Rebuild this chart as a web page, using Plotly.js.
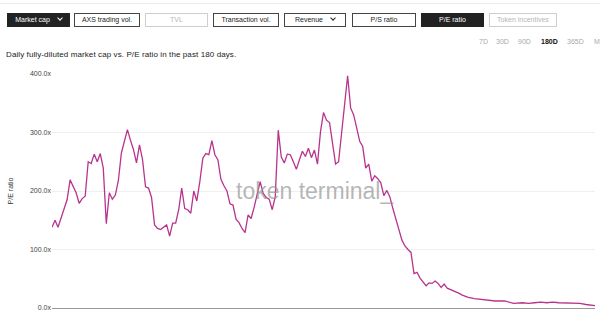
<!DOCTYPE html>
<html>
<head>
<meta charset="utf-8">
<script src="https://cdn.plot.ly/plotly-3.0.1.min.js"></script>
<style>
  html, body { margin:0; padding:0; width:600px; height:313px; overflow:hidden; background:#fff; }
  #chart { position:absolute; left:0; top:0; width:600px; height:313px; }
  .topline { position:absolute; left:0; top:3px; width:600px; height:0; border-top:1px solid #ececec; }
  .btn { position:absolute; top:13px; height:14px; box-sizing:border-box; border:1px solid #444;
         font-family:'Liberation Sans', Arial, sans-serif; font-size:7px; line-height:12px;
         text-align:center; color:#222; background:#fff; white-space:nowrap; }
  .btn.dark { background:#222; border-color:#222; color:#fff; }
  .btn.light { border-color:#cfcfcf; color:#b5b5b5; }
  .chev { display:inline-block; width:3px; height:3px; border-right:1px solid currentColor; border-bottom:1px solid currentColor;
          transform:rotate(45deg); margin-left:8px; position:relative; top:-2px; }
  .tab { position:absolute; top:38px; font-family:'Liberation Sans', Arial, sans-serif; font-size:7px; color:#aaa; }
  .tab.on { color:#111; font-weight:bold; }
  .desc { position:absolute; left:6px; top:50px; font-family:'Liberation Sans', Arial, sans-serif; font-size:8px; color:#222; letter-spacing:0.1px; }
</style>
</head>
<body>
<div id="chart"></div>
<div class="topline"></div>
<div id="controls"></div>
<div class="desc">Daily fully-diluted market cap vs. P/E ratio in the past 180 days.</div>
<script>
// ---- data ----
const startDate = '2021-11-01';
const dayOffsets = [
  0,1,2,3,4,5,6,7,8,9,10,11,12,13,14,15,16,17,18,19,20,21,22,23,24,25,26,27,28,29,
  30,31,32,33,34,35,36,37,38,39,40,41,42,43,44,45,46,47,48,49,50,51,52,53,54,55,56,57,58,59,
  60,61,62,63,64,65,66,67,68,69,70,71,72,73,74,75,76,77,78,79,80,81,82,83,84,85,86,87,88,89,
  90,91,92,93,94,95,96,97,98,99,100,101,102,103,104,105,106,107,108,109,110,111,112,113,114,115,116,117,118,119,
  120,121,122,123,124,125,126,127,128,129,130,131,132,133,134,135,136,137,138,
  140,142,144,147,150,153,156,158,160,162,164,166,168,172,175,177,180
];
const peRatio = [
  138,150,138,155,169,185,219,207,197,179,187,191,250,247,263,250,264,239,144,197,186,193,218,265,283,305,287,271,248,279,
  254,207,205,189,142,136,134,138,142,123,145,145,168,205,170,168,162,200,183,216,256,264,262,286,262,253,220,209,200,178,
  176,152,146,136,129,159,153,172,195,216,196,189,186,168,190,304,258,248,263,262,250,237,253,268,259,273,257,270,246,301,
  334,321,317,279,246,250,301,350,397,342,330,308,285,276,239,246,217,226,221,214,192,201,190,170,150,134,116,106,100,95,
  59,61,51,45,38,43,42,46,42,35,41,34,32,30,27,25,22,20,18,
  16,15,14,12,12,8,9,8,9,10,9,10,9,9,8,6,4
];
const yTicks = [0, 100, 200, 300, 400];
const yTickLabels = ['0.0x', '100.0x', '200.0x', '300.0x', '400.0x'];
const buttons = [
  {label:'Market cap', left:7, width:63, style:'dark', chevron:true},
  {label:'AXS trading vol.', left:74, width:66, style:'', chevron:false},
  {label:'TVL', left:145, width:63, style:'light', chevron:false},
  {label:'Transaction vol.', left:213, width:66, style:'', chevron:false},
  {label:'Revenue', left:284, width:62, style:'', chevron:true},
  {label:'P/S ratio', left:352, width:64, style:'', chevron:false},
  {label:'P/E ratio', left:421, width:63, style:'dark', chevron:false},
  {label:'Token incentives', left:489, width:68, style:'light', chevron:false}
];
const tabs = [
  {label:'7D', left:479}, {label:'30D', left:496}, {label:'90D', left:518},
  {label:'180D', left:541, on:true}, {label:'365D', left:567}, {label:'M', left:594}
];

// ---- controls (HTML text) ----
const ctr = document.getElementById('controls');
buttons.forEach(b => {
  const d = document.createElement('div');
  d.className = 'btn ' + b.style;
  d.style.left = b.left + 'px';
  d.style.width = b.width + 'px';
  d.textContent = b.label;
  if (b.chevron) { const c = document.createElement('span'); c.className = 'chev'; d.appendChild(c); }
  ctr.appendChild(d);
});
tabs.forEach(t => {
  const d = document.createElement('div');
  d.className = 'tab' + (t.on ? ' on' : '');
  d.style.left = t.left + 'px';
  d.textContent = t.label;
  ctr.appendChild(d);
});

// ---- chart ----
const base = new Date(startDate + 'T00:00:00Z').getTime();
const toDate = n => new Date(base + n * 86400000).toISOString().slice(0, 10);
const xDates = dayOffsets.map(toDate);

const trace = {
  x: xDates, y: peRatio, type: 'scatter', mode: 'lines',
  line: {color: '#b8338e', width: 1.3},
  hoverinfo: 'skip'
};

const layout = {
  width: 600, height: 313,
  margin: {l: 52, r: 5, t: 74, b: 5},
  paper_bgcolor: '#fff', plot_bgcolor: '#fff',
  showlegend: false,
  font: {family: 'Liberation Sans, Arial, sans-serif', size: 7, color: '#333'},
  xaxis: {
    type: 'date', range: [toDate(0), toDate(180)],
    showgrid: false, zeroline: false,
    showline: true, linecolor: '#999', linewidth: 1,
    ticks: '', showticklabels: false
  },
  yaxis: {
    range: [0, 400], tickvals: yTicks, ticktext: yTickLabels,
    showgrid: true, gridcolor: '#efefef', gridwidth: 1,
    zeroline: false, showline: false, ticks: '',
    tickfont: {size: 7, color: '#444'},
    title: {text: 'P/E ratio', font: {size: 7, color: '#333'}, standoff: 15}
  },
  annotations: [{
    text: 'token terminal_', xref: 'paper', yref: 'paper', x: 0.485, y: 0.50,
    showarrow: false, font: {size: 23, color: 'rgba(150,150,150,0.7)', family: 'Liberation Sans, Arial, sans-serif'}
  }]
};

Plotly.newPlot('chart', [trace], layout, {displayModeBar: false, staticPlot: true});
</script>
</body>
</html>
